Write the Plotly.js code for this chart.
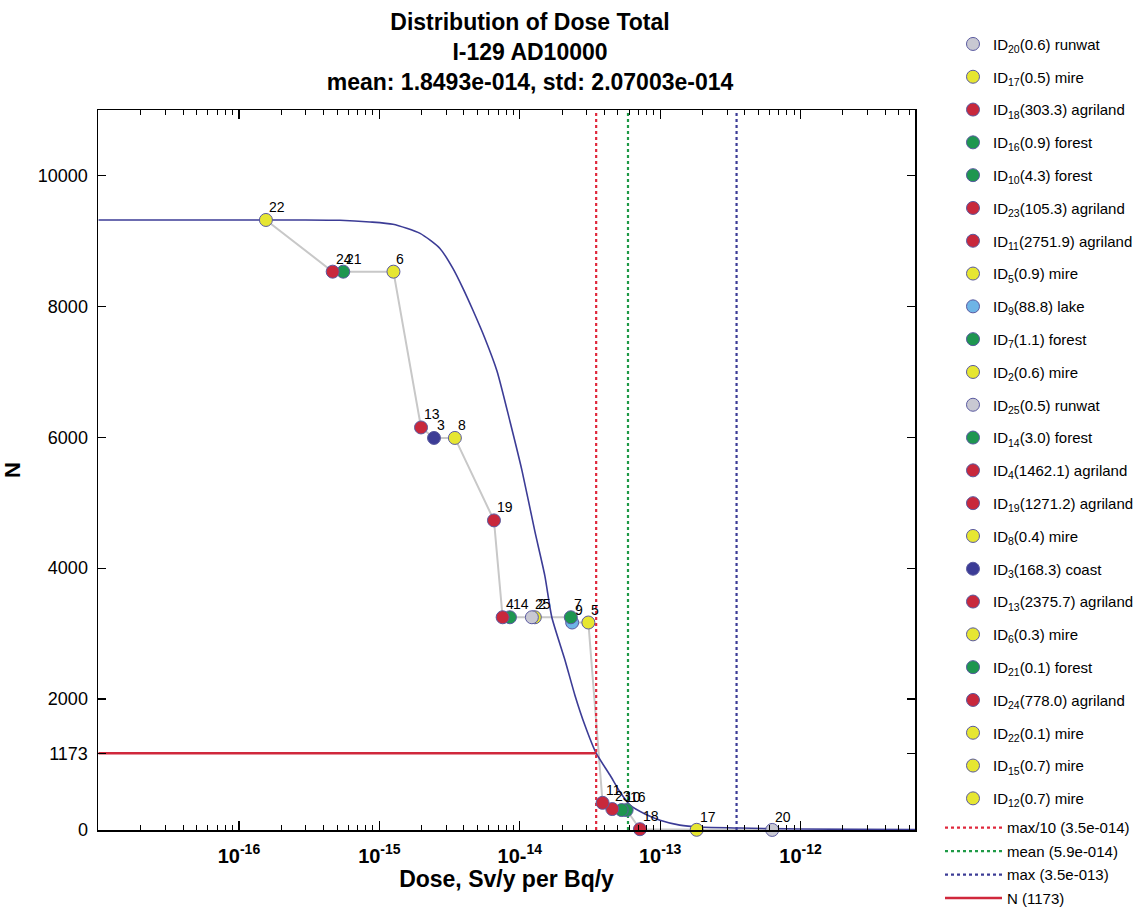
<!DOCTYPE html>
<html><head><meta charset="utf-8">
<script src="https://cdn.plot.ly/plotly-3.0.1.min.js"></script>
<style>html,body{margin:0;padding:0;background:#fff}</style>
</head><body><div id="chart" style="width:1143px;height:910px"></div>
<script>
// ---- data (legend order, highest dose first; 0 = dose below the plotted range) ----
const ids      = [20, 17, 18, 16, 10, 23, 11, 5, 9, 7, 2, 25, 14, 4, 19, 8, 3, 13, 6, 21, 24, 22, 15, 12];
const weights  = ['0.6','0.5','303.3','0.9','4.3','105.3','2751.9','0.9','88.8','1.1','0.6','0.5','3.0','1462.1','1271.2','0.4','168.3','2375.7','0.3','0.1','778.0','0.1','0.7','0.7'];
const ecos     = ['runwat','mire','agriland','forest','forest','agriland','agriland','mire','lake','forest','mire','runwat','forest','agriland','agriland','mire','coast','agriland','mire','forest','agriland','mire','mire','mire'];
const doses    = [6.28e-13, 1.82e-13, 7.18e-14, 5.77e-14, 5.32e-14, 4.56e-14, 3.89e-14, 3.08e-14, 2.36e-14, 2.31e-14, 1.28e-14, 1.22e-14, 8.51e-15, 7.55e-15, 6.55e-15, 3.45e-15, 2.45e-15, 1.98e-15, 1.26e-15, 5.53e-16, 4.65e-16, 1.556e-16, 0, 0];
const counts   = [1, 3, 12, 305, 305, 320, 415, 3170, 3170, 3250, 3250, 3250, 3250, 3250, 4730, 5990, 5990, 6150, 8530, 8530, 8530, 9320, null, null];

// N curve (number of realisations above dose)
const curveDose = [1.0e-17, 2.72e-16, 5.24e-16, 8.57e-16, 1.25e-15, 1.95e-15, 2.70e-15, 3.34e-15, 3.94e-15, 4.64e-15, 5.65e-15, 6.89e-15, 8.51e-15, 1.04e-14, 1.28e-14, 1.51e-14, 1.69e-14, 2.10e-14, 2.47e-14, 2.91e-14, 3.50e-14, 4.39e-14, 5.18e-14, 6.10e-14, 7.80e-14, 9.98e-14, 1.38e-13, 1.92e-13, 3.70e-13, 9.91e-13, 6.53e-12];
const curveN    = [9320, 9320, 9315, 9290, 9255, 9115, 8885, 8580, 8275, 7940, 7510, 7010, 6245, 5480, 4565, 3880, 3255, 2595, 2060, 1600, 1173, 840, 580, 380, 245, 150, 75, 45, 30, 15, 5];

// reference levels
const maxTenthDose = 3.5e-14;
const meanDose     = 5.9e-14;
const maxDose      = 3.5e-13;
const nLevel       = 1173;
const refLabels    = ['max/10 (3.5e-014)', 'mean (5.9e-014)', 'max (3.5e-013)', 'N (1173)'];

const xTickVals  = [1e-16, 1e-15, 1e-14, 1e-13, 1e-12];
const xTickText  = ['10<sup>-16</sup>', '10<sup>-15</sup>', '10-<sup>14</sup>', '10<sup>-13</sup>', '10<sup>-12</sup>'];
const yTickVals  = [0, 1173, 2000, 4000, 6000, 8000, 10000];
const yTickText  = ['0', '1173', '2000', '4000', '6000', '8000', '10000'];

// ---- styles ----
const ecoColors = {agriland:'#c8283c', forest:'#1e9650', mire:'#e6e632', runwat:'#c8c8d2', lake:'#6eb4e6', coast:'#3c3c96'};
const xMin = 1e-17, yMax = 11000;

const traces = [];
// grey connecting path in increasing dose order
const order = ids.map((_, i) => i).filter(i => doses[i] > 0).sort((a, b) => doses[a] - doses[b]);
traces.push({x: order.map(i => doses[i]), y: order.map(i => counts[i]), mode: 'lines',
  line: {color: '#c8c8c8', width: 2}, showlegend: false, hoverinfo: 'skip'});
// N curve
traces.push({x: curveDose, y: curveN, mode: 'lines', line: {color: '#3c3c96', width: 1.6, shape: 'spline', smoothing: 0.6},
  showlegend: false});
// reference lines
const refCols = ['#e0283c', '#1e9a46', '#3c3c96'];
[maxTenthDose, meanDose, maxDose].forEach((v, k) => {
  traces.push({x: [v, v], y: [0, yMax], mode: 'lines', name: refLabels[k], legend: 'legend2', legendgroup: 'r' + k,
    line: {color: refCols[k], width: 2.2, dash: 'dot'}});
});
traces.push({x: [xMin, maxTenthDose], y: [nLevel, nLevel], mode: 'lines', name: refLabels[3], legend: 'legend2', legendgroup: 'r3',
  line: {color: '#d0283c', width: 2.4}});
// markers
const annotations = [];
ids.forEach((id, i) => {
  traces.push({
    x: [doses[i]], y: [counts[i]],
    mode: 'markers',
    name: 'ID<sub>' + id + '</sub>(' + weights[i] + ') ' + ecos[i],
    legend: 'legend', legendgroup: 'm' + i, cliponaxis: false,
    marker: {size: 13, color: ecoColors[ecos[i]], line: {color: '#5a5aa0', width: 1}}
  });
  if (doses[i] > 0) {
    annotations.push({x: Math.log10(doses[i]), y: counts[i], xref: 'x', yref: 'y', text: String(id),
      showarrow: false, xanchor: 'left', yanchor: 'bottom', xshift: 1, yshift: 3,
      font: {size: 14, color: '#000'}});
  }
});

const layout = {
  width: 1143, height: 910,
  margin: {l: 98, r: 228, t: 110, b: 80, autoexpand: false},
  paper_bgcolor: '#fff', plot_bgcolor: '#fff',
  font: {family: 'Liberation Sans, Arial, sans-serif', color: '#000'},
  title: {text: 'Distribution of Dose Total<br>I-129 AD10000<br>mean: 1.8493e-014, std: 2.07003e-014',
    font: {size: 23, weight: 'bold'}, x: 0.4637, xanchor: 'center', y: 0.967, yanchor: 'top'},
  annotations: annotations,
  xaxis: {type: 'log', range: [Math.log10(xMin) - 0.004, -11.185], showline: true, linecolor: '#000', linewidth: 1.5,
    mirror: 'ticks', ticks: 'inside', ticklen: 9, tickwidth: 1.2, tickcolor: '#000',
    tickmode: 'array', tickvals: xTickVals, ticktext: xTickText,
    tickfont: {size: 20, weight: 'bold'}, ticklabelstandoff: 7,
    minor: {tickmode: 'linear', dtick: 'D1', ticks: 'inside', ticklen: 5, tickcolor: '#000', tickwidth: 1, showgrid: false},
    showgrid: false, zeroline: false,
    title: {text: 'Dose, Sv/y per Bq/y', font: {size: 23, weight: 'bold'}, standoff: 0}},
  yaxis: {range: [0, yMax], showline: true, linecolor: '#000', linewidth: 1.5,
    mirror: 'ticks', ticks: 'inside', ticklen: 8, tickwidth: 1.2, tickcolor: '#000',
    tickmode: 'array', tickvals: yTickVals, ticktext: yTickText, tickfont: {size: 18}, ticklabelstandoff: 5,
    showgrid: false, zeroline: false,
    title: {text: 'N', font: {size: 22, weight: 'bold'}, standoff: 11}},
  showlegend: true,
  legend: {x: 1.0465, xanchor: 'left', y: 1.1143, yanchor: 'top', traceorder: 'grouped', tracegroupgap: 10.3,
    font: {size: 15}, bgcolor: 'rgba(0,0,0,0)', maxheight: 900},
  legend2: {x: 1.0306, xanchor: 'left', y: 0.026, yanchor: 'top', traceorder: 'grouped', tracegroupgap: 1,
    itemwidth: 57, font: {size: 15}, bgcolor: 'rgba(0,0,0,0)', maxheight: 300}
};

Plotly.newPlot('chart', traces, layout, {displayModeBar: false, staticPlot: true});
</script>
</body></html>
